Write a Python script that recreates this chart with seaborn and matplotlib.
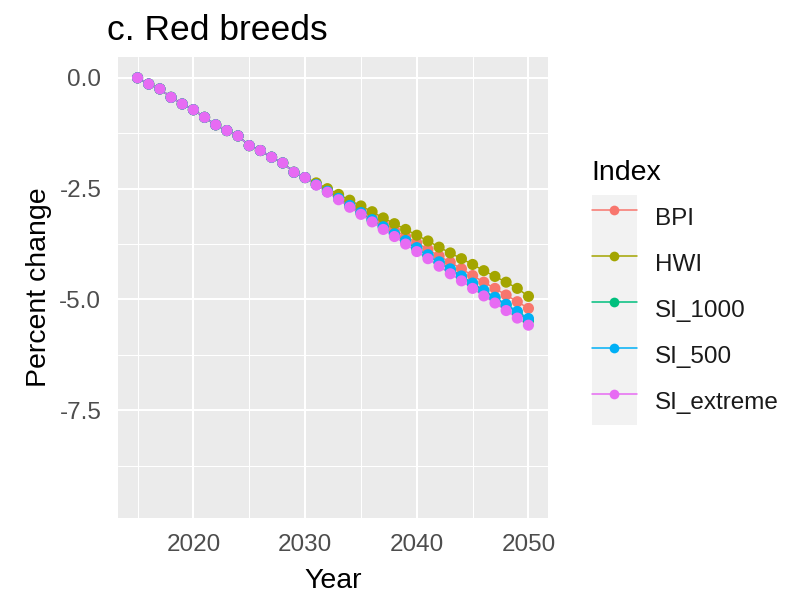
import numpy as np
import pandas as pd
import seaborn as sns
import matplotlib
import matplotlib.pyplot as plt
from matplotlib.lines import Line2D
from matplotlib.patches import Rectangle
from matplotlib.legend_handler import HandlerTuple

matplotlib.use("Agg")

# Données (variation en %, 2015-2050)
years = list(range(2015, 2051))

start = [0.00, -0.14, -0.25, -0.44, -0.59, -0.72, -0.89, -1.06,
         -1.19, -1.31, -1.53, -1.64, -1.79, -1.92, -2.13, -2.25]

bpi = start + [-2.40, -2.54, -2.69, -2.84, -2.99, -3.13, -3.28, -3.43, -3.58, -3.72,
               -3.87, -4.02, -4.16, -4.31, -4.46, -4.61, -4.75, -4.90, -5.05, -5.20]
hwi = start + [-2.37, -2.50, -2.63, -2.76, -2.89, -3.02, -3.16, -3.29, -3.42, -3.55,
               -3.68, -3.82, -3.95, -4.08, -4.21, -4.35, -4.48, -4.61, -4.75, -4.93]
si_1000 = start + [-2.41, -2.57, -2.73, -2.89, -3.05, -3.21, -3.37, -3.53, -3.69, -3.85,
                   -4.01, -4.17, -4.33, -4.49, -4.65, -4.81, -4.97, -5.13, -5.29, -5.48]
si_500 = start + [-2.41, -2.56, -2.72, -2.88, -3.04, -3.20, -3.36, -3.52, -3.67, -3.83,
                  -3.99, -4.15, -4.31, -4.47, -4.63, -4.79, -4.95, -5.11, -5.27, -5.43]
si_extreme = start + [-2.42, -2.58, -2.75, -2.92, -3.08, -3.25, -3.42, -3.58, -3.75, -3.92,
                      -4.08, -4.25, -4.42, -4.58, -4.75, -4.92, -5.08, -5.25, -5.42, -5.58]

index_names = ["BPI", "HWI", "SI_1000", "SI_500", "SI_extreme"]
colors = ["#F8766D", "#A3A500", "#00BF7D", "#00B0F6", "#E76BF3"]

series = [bpi, hwi, si_1000, si_500, si_extreme]
df = pd.concat(
    [pd.DataFrame({"Year": years, "Change": vals, "Index": name})
     for name, vals in zip(index_names, series)],
    ignore_index=True,
)

sns.set_style("darkgrid", rc={"axes.facecolor": "#EBEBEB", "grid.color": "white"})
plt.rcParams["font.family"] = ["Liberation Sans", "DejaVu Sans"]
plt.rcParams["axes.unicode_minus"] = False

W, H = 805, 596
fig = plt.figure(figsize=(W / 100, H / 100), dpi=100)
ax = fig.add_axes([118 / W, 1 - 518 / H, (548 - 118) / W, (518 - 57) / H])

palette = dict(zip(index_names, colors))
sns.lineplot(data=df, x="Year", y="Change", hue="Index", palette=palette,
             linewidth=1.1, legend=False, ax=ax, zorder=2)
sns.scatterplot(data=df, x="Year", y="Change", hue="Index", palette=palette,
                s=64, edgecolor="none", legend=False, ax=ax, zorder=3)

ax.set_xlim(2013.25, 2051.75)
ax.set_ylim(-9.93, 0.47)
ax.set_xticks([2020, 2030, 2040, 2050])
ax.set_xticks([2015, 2025, 2035, 2045], minor=True)
ax.set_yticks([0, -2.5, -5, -7.5])
ax.set_yticklabels(["0.0", "-2.5", "-5.0", "-7.5"])
ax.set_yticks([-1.25, -3.75, -6.25, -8.75], minor=True)
ax.grid(which="major", color="white", linewidth=1.5)
ax.grid(which="minor", color="white", linewidth=0.75)
ax.set_axisbelow(True)
for s in ax.spines.values():
    s.set_visible(False)
ax.tick_params(which="major", length=4, width=1, color="#333333",
               labelsize=17.5, labelcolor="#4D4D4D")
ax.tick_params(axis="x", which="major", pad=7.5)
ax.tick_params(axis="y", which="major", pad=8)
ax.tick_params(which="minor", length=0)

ax.set_xlabel("Year", fontsize=20.5, color="black", labelpad=9)
ax.set_ylabel("Percent change", fontsize=20.5, color="black", labelpad=5)
fig.text(107 / W, 1 - 40 / H, "c. Red breeds", fontsize=25.5, color="black",
         ha="left", va="baseline")

# Légende façon ggplot (fond gris derrière les clés)
fig.text(591 / W, 1 - 180 / H, "Index", fontsize=20.5, color="black",
         ha="left", va="baseline")
handles = [(Rectangle((0, 0), 1, 1, facecolor="#F2F2F2", edgecolor="none"),
            Line2D([], [], color=c, lw=1.1, marker="o", markersize=7,
                   markeredgewidth=0))
           for c in colors]
leg = ax.legend(handles, index_names, handler_map={tuple: HandlerTuple(ndivide=1, pad=0)},
                loc="upper left", bbox_to_anchor=(592 / W, 1 - 195 / H),
                bbox_transform=fig.transFigure, frameon=False,
                fontsize=17.5, handlelength=1.85, handleheight=2.535,
                labelspacing=0.0, handletextpad=0.74, borderpad=0, borderaxespad=0)
for t in leg.get_texts():
    t.set_color("#1A1A1A")

fig.savefig("out.png", dpi=100)
